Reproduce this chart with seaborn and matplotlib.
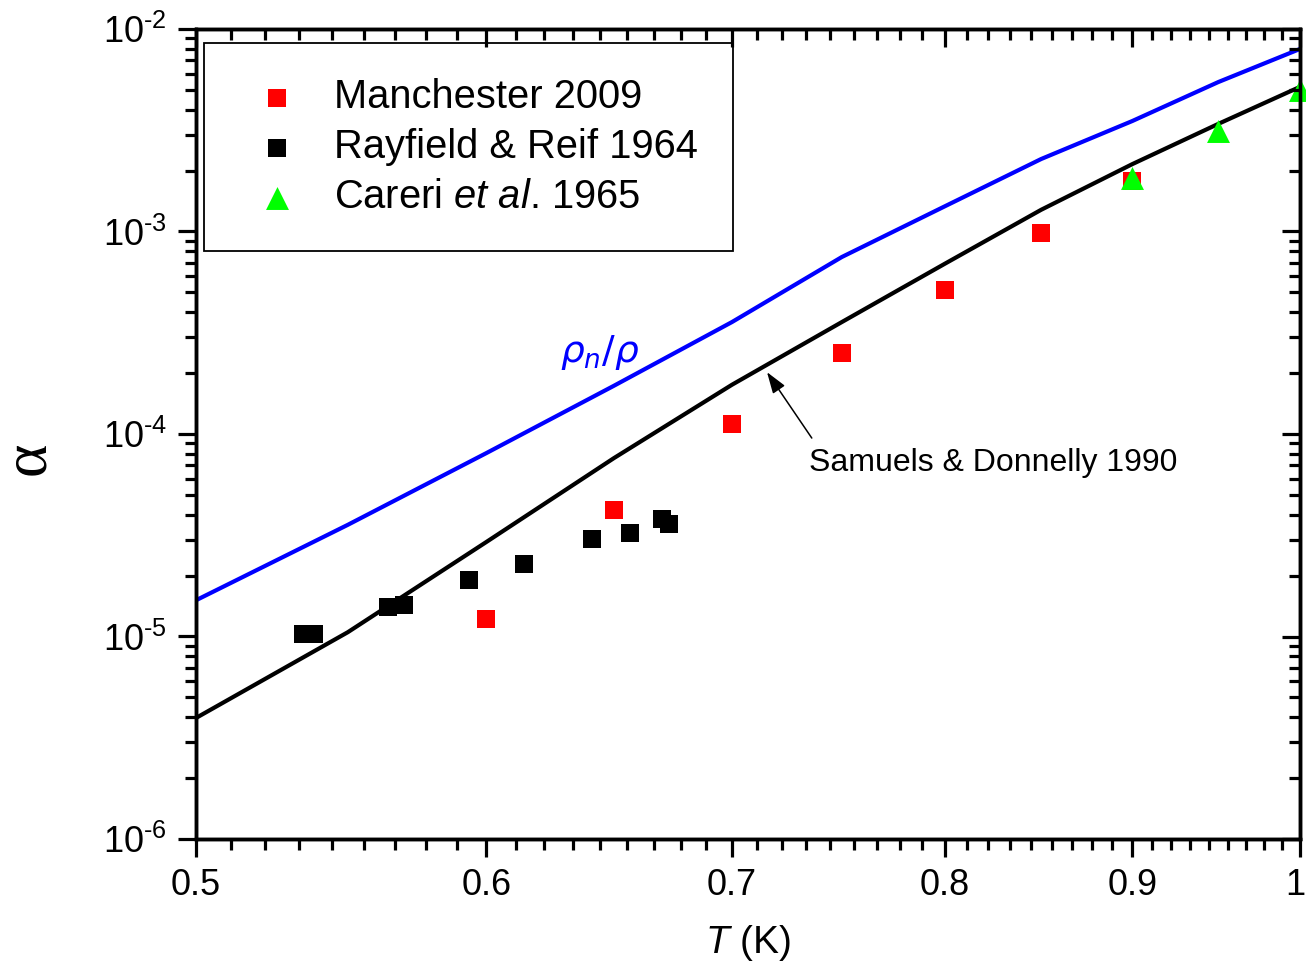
import numpy as np
import pandas as pd
import matplotlib
matplotlib.use("Agg")
import matplotlib.pyplot as plt
import matplotlib.transforms as mtransforms
import seaborn as sns
from matplotlib.ticker import FixedLocator, FixedFormatter, NullFormatter, LogLocator

# ---------------- data ----------------
manc_T = [0.60, 0.65, 0.70, 0.75, 0.80, 0.85, 0.90]
manc_a = [1.22e-5, 4.22e-5, 1.12e-4, 2.51e-4, 5.14e-4, 9.84e-4, 1.77e-3]

ray_T = [0.5348, 0.5385, 0.5641, 0.5698, 0.5935, 0.6144, 0.6412, 0.6566, 0.6700, 0.6729]
ray_a = [1.03e-5, 1.03e-5, 1.40e-5, 1.43e-5, 1.90e-5, 2.28e-5, 3.03e-5, 3.24e-5, 3.80e-5, 3.60e-5]

car_T = [0.90, 0.95, 1.00]
car_a = [1.84e-3, 3.13e-3, 5.00e-3]

line_T = [0.50, 0.55, 0.60, 0.65, 0.70, 0.75, 0.80, 0.85, 0.90, 0.95, 1.00]
rhon_a = [1.51e-5, 3.56e-5, 8.05e-5, 1.73e-4, 3.57e-4, 7.48e-4, 1.33e-3, 2.28e-3, 3.51e-3, 5.47e-3, 7.97e-3]
sd_a = [3.96e-6, 1.05e-5, 2.93e-5, 7.60e-5, 1.75e-4, 3.57e-4, 6.92e-4, 1.28e-3, 2.15e-3, 3.40e-3, 5.18e-3]

x_major = [0.5, 0.6, 0.7, 0.8, 0.9, 1.0]
x_labels = ["0.5", "0.6", "0.7", "0.8", "0.9", "1"]
y_major = [1e-6, 1e-5, 1e-4, 1e-3, 1e-2]
y_exps = ["-6", "-5", "-4", "-3", "-2"]
y_labels = ["10$^{\\mathregular{" + e.replace("-", "\u2010") + "}}$" for e in y_exps]

# ---------------- style ----------------
sns.set_style("ticks")
plt.rcParams["font.family"] = ["Liberation Sans", "DejaVu Sans"]
plt.rcParams["mathtext.fontset"] = "custom"
plt.rcParams["mathtext.rm"] = "Liberation Sans"
plt.rcParams["mathtext.it"] = "Liberation Sans:italic"
plt.rcParams["mathtext.bf"] = "Liberation Sans:bold"
for k in ["text.color", "axes.labelcolor", "xtick.color", "ytick.color", "axes.edgecolor"]:
    plt.rcParams[k] = "black"

fig = plt.figure(figsize=(13.06, 9.66), dpi=100)
ax = fig.add_axes([196 / 1306, 1 - 839 / 966, 1104 / 1306, 810 / 966])
ax.set_xscale("log")
ax.set_yscale("log")
ax.set_xlim(0.5, 1.0)
ax.set_ylim(1e-6, 1e-2)

# lines
sns.lineplot(x=line_T, y=rhon_a, color="#0000ff", lw=3.0, ax=ax, sort=False,
             estimator=None, legend=False, zorder=2)
sns.lineplot(x=line_T, y=sd_a, color="black", lw=3.0, ax=ax, sort=False,
             estimator=None, legend=False, zorder=2)

# points
sns.scatterplot(x=manc_T, y=manc_a, marker="s", s=13 ** 2, color="#ff0000",
                linewidth=0, label="Manchester 2009", ax=ax, zorder=3)
sns.scatterplot(x=ray_T, y=ray_a, marker="s", s=13 ** 2, color="black",
                linewidth=0, label="Rayfield & Reif 1964", ax=ax, zorder=3)
sns.scatterplot(x=car_T, y=car_a, marker="^", s=16.5 ** 2, color="#00ff00",
                linewidth=0, label=r"Careri $\mathit{et}$ $\mathit{al}$. 1965", ax=ax,
                zorder=4, clip_on=False)

# ---------------- axes / ticks ----------------
def minor_x():
    out = []
    for a, b in zip(x_major[:-1], x_major[1:]):
        out += [a + (b - a) * k / 9 for k in range(1, 9)]
    return out

ax.xaxis.set_major_locator(FixedLocator(x_major))
ax.xaxis.set_major_formatter(FixedFormatter(x_labels))
ax.xaxis.set_minor_locator(FixedLocator(minor_x()))
ax.xaxis.set_minor_formatter(NullFormatter())
ax.yaxis.set_major_locator(FixedLocator(y_major))
ax.yaxis.set_major_formatter(FixedFormatter(y_labels))
ax.yaxis.set_minor_locator(LogLocator(base=10, subs=np.arange(2, 10)))
ax.yaxis.set_minor_formatter(NullFormatter())

tick_w = 2.3
ax.tick_params(which="major", direction="out", length=13, width=tick_w,
               labelsize=26, pad=8, colors="black")
ax.tick_params(which="minor", direction="out", length=8, width=tick_w, colors="black")
for sp in ax.spines.values():
    sp.set_linewidth(2.4)
    sp.set_visible(True)
    sp.set_color("black")

# keep the last x tick label ("1") inside the canvas
last_lbl = ax.get_xticklabels()[-1]
last_lbl.set_horizontalalignment("right")
last_lbl.set_transform(last_lbl.get_transform() +
                       mtransforms.ScaledTranslation(5 / 100, 0, fig.dpi_scale_trans))

# top & right inward ticks
axt = ax.twiny()
axt.set_xscale("log")
axt.set_xlim(ax.get_xlim())
axt.xaxis.set_major_locator(FixedLocator(x_major))
axt.xaxis.set_minor_locator(FixedLocator(minor_x()))
axt.xaxis.set_major_formatter(NullFormatter())
axt.xaxis.set_minor_formatter(NullFormatter())
axt.tick_params(which="major", direction="in", length=13, width=tick_w, colors="black")
axt.tick_params(which="minor", direction="in", length=8, width=tick_w, colors="black")

axr = ax.twinx()
axr.set_yscale("log")
axr.set_ylim(ax.get_ylim())
axr.yaxis.set_major_locator(FixedLocator(y_major))
axr.yaxis.set_minor_locator(LogLocator(base=10, subs=np.arange(2, 10)))
axr.yaxis.set_major_formatter(NullFormatter())
axr.yaxis.set_minor_formatter(NullFormatter())
axr.tick_params(which="major", direction="in", length=13, width=tick_w, colors="black")
axr.tick_params(which="minor", direction="in", length=8, width=tick_w, colors="black")
for a_ in (axt, axr):
    for sp in a_.spines.values():
        sp.set_linewidth(2.4)
        sp.set_color("black")

# labels
ax.set_xlabel(r"$\mathit{T}$ (K)", fontsize=28, labelpad=14)
ax.set_ylabel("\u03b1", fontsize=46, family="Liberation Serif")
ax.yaxis.set_label_coords(-0.125, 0.47)

# annotations
ax.text(0.366, 0.601, r"$\rho_n/\rho$", transform=ax.transAxes, color="#0000ff",
        fontsize=27, ha="center", va="center", math_fontfamily="dejavusans")
ax.annotate("", xy=(0.7156, 2.02e-4), xytext=(0.736, 9.55e-5),
            arrowprops=dict(arrowstyle="-|>,head_length=0.65,head_width=0.22",
                            color="black", lw=1.1, mutation_scale=20,
                            shrinkA=0, shrinkB=0))
ax.text(0.722, 0.464, "Samuels & Donnelly 1990", transform=ax.transAxes,
        fontsize=23, ha="center", va="center")

# legend
leg = ax.legend(loc="upper left", bbox_to_anchor=((204 - 196) / 1104, (839 - 43) / 810),
                borderaxespad=0, frameon=True, fancybox=False, edgecolor="black",
                fontsize=28.7, borderpad=0.88, handlelength=1.9, handletextpad=0.47,
                labelspacing=0.3, framealpha=1)
leg.get_frame().set_linewidth(1.3)

fig.savefig("out.png", dpi=100)
